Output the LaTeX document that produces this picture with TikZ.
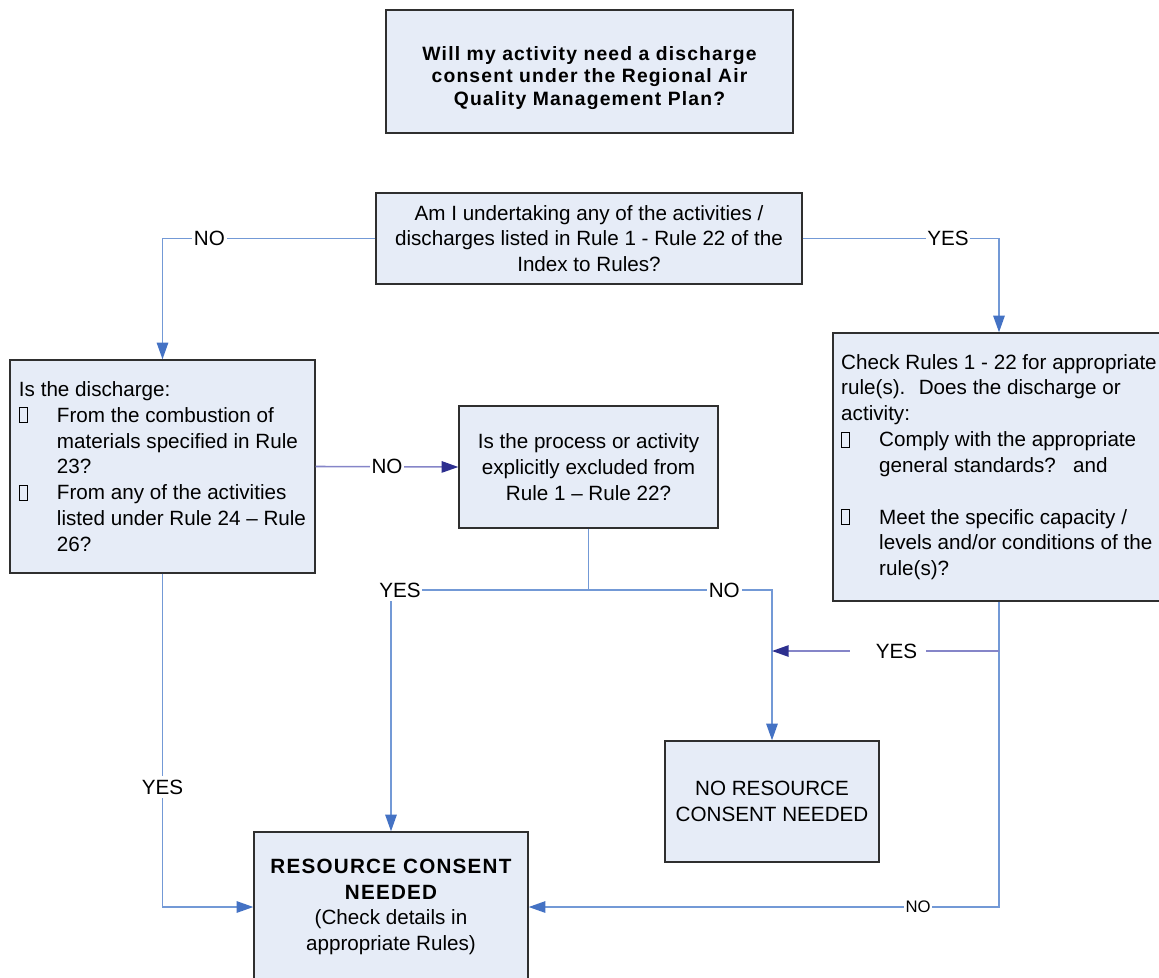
\documentclass[tikz,border=0pt]{standalone}
\usepackage{fontspec}
\setmainfont{Liberation Sans}
\newfontfamily\titlefont[LetterSpace=6]{Liberation Sans}
\newfontfamily\headfont[LetterSpace=6]{Liberation Sans}
\usepackage{tikz}
\usetikzlibrary{arrows.meta}
\usepackage{xcolor}

\definecolor{boxfill}{HTML}{E6ECF7}
\definecolor{boxline}{HTML}{2F2F2F}
\definecolor{linkline}{HTML}{7399D6}
\definecolor{linktip}{HTML}{4472C4}
\definecolor{navyline}{HTML}{8585C8}
\definecolor{navytip}{HTML}{2D2F8F}

% the bullets come out as empty boxes
\newcommand{\missingglyph}{{\fboxsep=0pt\fboxrule=0.5pt\fbox{\vrule width 0pt height 8pt\hspace{4.2pt}}}}
\newcommand{\bulletgap}{\makebox[0.76cm][l]{\missingglyph}}
\newcommand{\hang}{\hspace*{0.76cm}}

\begin{document}
\begin{tikzpicture}[x=0.02cm, y=-0.02cm,
  every node/.style={font=\fontsize{11.75}{14.7}\selectfont},
  box/.style={draw=boxline, line width=0.8pt, fill=boxfill, inner sep=0pt},
  wire/.style={draw=linkline, line width=0.9pt},
  link/.style={wire, -{Triangle[length=9.5pt, width=6.5pt, color=linktip]}},
  navylink/.style={draw=navyline, line width=0.9pt, -{Triangle[length=9.5pt, width=6.5pt, color=navytip]}},
  lbl/.style={fill=white, inner xsep=1pt, inner ysep=2pt}
]
  \useasboundingbox (0,0) rectangle (1159,977);

  % boxes
  \node[box, minimum width=8.14cm, minimum height=2.46cm, align=center,
        font=\titlefont\bfseries\fontsize{11}{12.8}\selectfont] (title) at (589.5,71.5)
    {\rule{0pt}{15pt}Will my activity need a discharge\\consent under the Regional Air\\Quality Management Plan?};
  \node[box, minimum width=8.52cm, minimum height=1.82cm, align=center] (quest) at (589,238.5)
    {Am I undertaking any of the activities /\\discharges listed in Rule 1 - Rule 22 of the\\Index to Rules?};
  \node[box, minimum width=6.1cm, minimum height=4.26cm, align=left] (disch) at (162.5,466.5)
    {Is the discharge:\\
     \bulletgap From the combustion of\\ \hang materials specified in Rule\\ \hang 23?\\
     \bulletgap From any of the activities\\ \hang listed under Rule 24 -- Rule\\ \hang 26?};
  \node[box, minimum width=5.18cm, minimum height=2.44cm, align=center] (excl) at (588.5,467)
    {Is the process or activity\\explicitly excluded from\\Rule 1 -- Rule 22?};
  \node[box, minimum width=6.64cm, minimum height=5.36cm, align=left] (check) at (999,467)
    {Check Rules 1 - 22 for appropriate\\rule(s).~ Does the discharge or\\activity:\\
     \bulletgap Comply with the appropriate\\ \hang general standards?~~~and\\ \mbox{}\\
     \bulletgap Meet the specific capacity /\\ \hang levels and/or conditions of the\\ \hang rule(s)?};
  \node[box, minimum width=4.28cm, minimum height=2.42cm, align=center] (noneed) at (772,801.5)
    {NO RESOURCE\\CONSENT NEEDED};
  \node[box, minimum width=5.48cm, minimum height=3.0cm, align=center] (need) at (391,907)
    {{\headfont\bfseries RESOURCE CONSENT}\\{\headfont\bfseries NEEDED}\\(Check details in\\appropriate Rules)};

  % connectors
  \draw[link] (quest.west) -| node[lbl, pos=0.39] {NO} (disch.north);
  \draw[link] (quest.east) -| node[lbl, pos=0.37] {YES} (check.north);
  \draw[navylink] (disch.east) -- node[lbl] {NO} (excl.west);

  \coordinate (split) at (excl.south |- 0,590);
  \draw[wire] (excl.south) -- (split);
  \draw[link] (split) -| node[lbl, pos=0.5, xshift=0.18cm] {YES} (need.north);
  \draw[link] (split) -| node[lbl, pos=0.37] {NO} (noneed.north);

  \draw[link] (disch.south) |- node[lbl, pos=0.32] {YES} (need.west);
  \draw[link] (check.south) |- node[lbl, pos=0.586, font=\fontsize{9.5}{11}\selectfont] {NO} (need.east);

  \coordinate (fork) at (check.south |- 0,651);
  \coordinate (merge) at (noneed.north |- fork);
  \draw[navylink] (fork) -- node[lbl, pos=0.49, inner xsep=5pt] {\hspace{10pt}YES} (merge);
\end{tikzpicture}
\end{document}
